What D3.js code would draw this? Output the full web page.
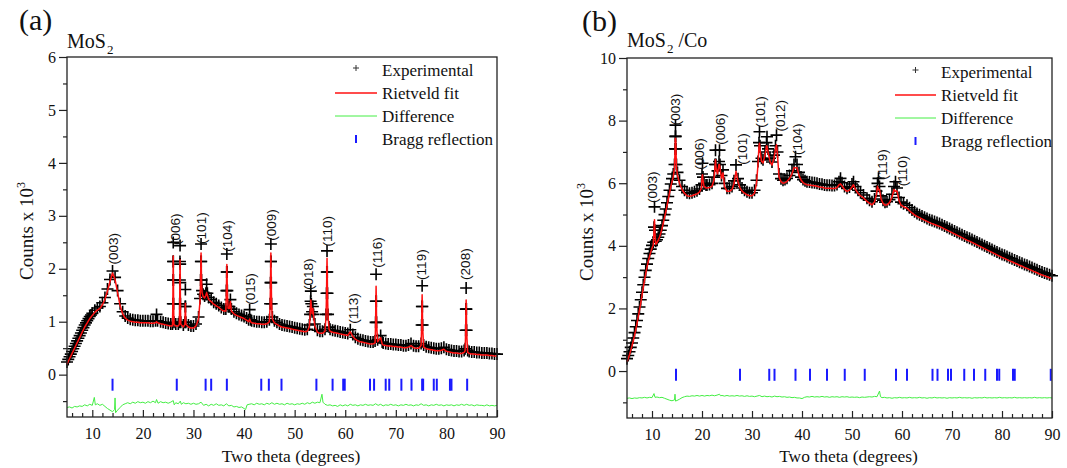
<!DOCTYPE html>
<html>
<head>
<meta charset="utf-8">
<script src="https://cdn.jsdelivr.net/npm/d3@7"></script>
<style>
  html, body { margin: 0; padding: 0; background: #fff; }
  svg { display: block; }
</style>
</head>
<body>
<svg id="chart" width="1067" height="468"></svg>
<script>
// ---------- Data: 2θ (degrees), counts (×10³) ----------

// Axis ticks
const xTicks = [10, 20, 30, 40, 50, 60, 70, 80, 90];
const xMinorTicks = [6, 8, 12, 14, 16, 18, 22, 24, 26, 28, 32, 34, 36, 38, 42, 44, 46, 48,
  52, 54, 56, 58, 62, 64, 66, 68, 72, 74, 76, 78, 82, 84, 86, 88];
const yTicksA = [0, 1, 2, 3, 4, 5, 6];
const yMinorTicksA = [-0.5, 0.5, 1.5, 2.5, 3.5, 4.5, 5.5];
const yTicksB = [0, 2, 4, 6, 8, 10];
const yMinorTicksB = [-1, 1, 3, 5, 7, 9];

// (a) MoS2 — observed pattern
const countsA = [
  [5.0,0.20],[5.25,0.25],[5.5,0.30],[5.75,0.35],[6.0,0.40],[6.25,0.45],[6.5,0.50],[6.75,0.55],
  [7.0,0.60],[7.25,0.65],[7.5,0.70],[7.75,0.75],[8.0,0.80],[8.25,0.85],[8.5,0.90],[8.75,0.94],
  [9.0,0.98],[9.25,1.02],[9.5,1.06],[9.75,1.09],[10.0,1.12],[10.5,1.18],[11.0,1.22],[11.5,1.25],
  [12.0,1.32],[12.5,1.42],[13.0,1.58],[13.5,1.76],[14.0,1.92],[14.5,1.80],[15.0,1.55],[15.5,1.30],
  [16.0,1.15],[16.5,1.07],[17.0,1.03],[17.5,1.01],[18.0,1.00],[18.5,0.99],[19.0,0.99],[19.5,0.98],
  [20.0,0.98],[20.5,0.98],[21.0,0.98],[21.5,0.97],[22.0,0.97],[22.5,0.98],[22.7,1.10],[22.9,0.98],
  [23.5,0.96],[24.0,0.95],[24.5,0.94],[25.0,0.93],[25.5,0.92],[25.85,0.92],
  [25.92,1.30],[25.96,1.75],[25.98,2.10],[26.0,2.46],[26.02,2.10],[26.04,1.75],[26.08,1.30],[26.15,0.95],
  [26.5,0.92],[27.0,0.92],[27.2,0.95],[27.27,1.30],[27.31,1.75],[27.33,2.10],[27.35,2.40],[27.37,2.05],
  [27.39,1.70],[27.43,1.30],[27.5,0.95],[28.0,0.90],[28.3,0.95],[28.37,1.25],[28.4,1.57],[28.43,1.25],
  [28.5,0.95],[29.0,0.90],[29.5,0.88],[30.0,0.88],[30.5,0.92],[31.0,1.05],[31.3,1.40],[31.4,1.75],
  [31.46,2.10],[31.5,2.43],[31.54,2.10],[31.6,1.75],[31.7,1.55],[31.9,1.48],[32.2,1.45],[32.45,1.50],
  [32.6,1.67],[32.75,1.50],[33.0,1.42],[33.5,1.38],[34.0,1.33],[34.5,1.30],[35.0,1.27],[35.5,1.23],
  [36.0,1.20],[36.4,1.20],[36.5,1.55],[36.56,1.90],[36.6,2.24],[36.64,1.90],[36.7,1.55],[36.85,1.25],
  [37.1,1.25],[37.3,1.38],[37.5,1.20],[38.0,1.15],[38.5,1.12],[39.0,1.10],[39.5,1.08],[40.0,1.06],
  [40.5,1.03],[40.9,1.00],[41.1,1.19],[41.3,1.00],[41.5,0.98],[42.0,0.97],[42.5,0.96],[43.0,0.96],
  [43.5,0.95],[44.0,0.95],[44.5,0.96],[45.0,1.00],[45.15,1.30],[45.22,1.70],[45.27,2.10],[45.3,2.43],
  [45.33,2.10],[45.38,1.70],[45.45,1.30],[45.6,1.05],[46.0,0.98],[46.5,0.95],[47.0,0.92],[47.5,0.90],
  [48.0,0.89],[48.5,0.88],[49.0,0.87],[49.5,0.86],[50.0,0.85],[50.5,0.84],[51.0,0.83],[51.5,0.82],
  [52.0,0.81],[52.5,0.82],[52.9,0.90],[53.05,1.10],[53.15,1.35],[53.2,1.54],[53.3,1.30],[53.45,1.15],
  [53.6,1.25],[53.75,1.10],[54.0,0.92],[54.5,0.80],[55.0,0.78],[55.5,0.78],[56.0,0.82],[56.2,1.10],
  [56.3,1.50],[56.35,1.90],[56.4,2.30],[56.45,1.90],[56.5,1.50],[56.6,1.10],[56.8,0.86],[57.0,0.82],
  [57.5,0.80],[58.0,0.79],[58.5,0.78],[59.0,0.77],[59.5,0.76],[60.0,0.75],[60.5,0.74],[61.0,0.81],
  [61.5,0.72],[62.0,0.67],[62.5,0.64],[63.0,0.62],[63.5,0.61],[64.0,0.60],[64.5,0.59],[65.0,0.58],
  [65.5,0.58],[65.9,0.60],[66.0,0.95],[66.05,1.35],[66.1,1.86],[66.15,1.35],[66.2,0.95],[66.4,0.62],
  [67.0,0.70],[67.3,0.58],[67.5,0.56],[68.0,0.55],[68.5,0.54],[69.0,0.54],[69.5,0.53],[70.0,0.53],
  [70.5,0.52],[71.0,0.52],[71.5,0.51],[72.0,0.51],[72.5,0.52],[73.0,0.55],[73.5,0.51],[74.0,0.50],
  [74.5,0.50],[75.0,0.55],[75.1,0.90],[75.15,1.25],[75.2,1.64],[75.25,1.25],[75.3,0.90],[75.5,0.52],
  [76.0,0.49],[76.5,0.48],[77.0,0.47],[77.5,0.46],[78.0,0.45],[78.5,0.45],[79.0,0.46],[79.5,0.48],
  [80.0,0.44],[80.5,0.43],[81.0,0.42],[81.5,0.41],[82.0,0.41],[82.5,0.40],[83.0,0.40],[83.5,0.42],
  [83.7,0.45],[83.8,0.80],[83.85,1.20],[83.9,1.60],[83.95,1.20],[84.0,0.80],[84.2,0.42],[84.5,0.40],
  [85.0,0.39],[85.5,0.39],[86.0,0.38],[86.5,0.38],[87.0,0.37],[87.5,0.37],[88.0,0.37],[88.5,0.36],
  [89.0,0.36],[89.5,0.35],[90.0,0.35]
];
// (a) Rietveld fit: peak maxima that sit below the observed points
const fitTopsA = [[22.7,1.00],[26.0,2.24],[27.35,2.17],[28.4,1.35],[31.5,2.30],[32.6,1.55],[36.6,2.08],
  [41.1,1.05],[45.3,2.30],[53.2,1.41],[56.4,2.20],[66.1,1.67],[75.2,1.51],[83.9,1.41]];
// (a) difference curve (offset below zero)
const diffA = [
  [5,-0.62],[5.5,-0.61],[6,-0.63],[6.5,-0.60],[7,-0.61],[7.5,-0.59],[8,-0.60],[8.5,-0.57],[9,-0.59],
  [9.5,-0.56],[10,-0.58],[10.4,-0.43],[10.6,-0.57],[11,-0.55],[11.5,-0.58],[12,-0.56],[12.5,-0.60],
  [13,-0.64],[13.5,-0.67],[14,-0.70],[14.4,-0.66],[14.5,-0.44],[14.6,-0.72],[15,-0.67],[15.5,-0.62],
  [16,-0.57],[16.5,-0.55],[17,-0.53],[17.5,-0.55],[18,-0.52],[18.5,-0.54],[19,-0.51],[19.5,-0.53],
  [20,-0.52],[20.5,-0.54],[21,-0.51],[21.5,-0.53],[22,-0.50],[22.5,-0.53],[22.7,-0.47],[23,-0.54],
  [23.5,-0.51],[24,-0.53],[24.5,-0.52],[25,-0.54],[25.5,-0.52],[26,-0.49],[26.2,-0.57],[26.5,-0.53],
  [27,-0.55],[27.4,-0.50],[27.6,-0.56],[28,-0.53],[28.5,-0.55],[29,-0.54],[29.5,-0.56],[30,-0.54],
  [30.5,-0.56],[31,-0.55],[31.5,-0.52],[32,-0.58],[32.5,-0.56],[33,-0.59],[33.5,-0.56],[34,-0.58],
  [34.5,-0.55],[35,-0.58],[35.5,-0.57],[36,-0.59],[36.5,-0.55],[37,-0.59],[37.5,-0.58],[38,-0.61],
  [38.5,-0.60],[39,-0.62],[39.5,-0.61],[40,-0.64],[40.3,-0.66],[40.6,-0.57],[41,-0.56],[41.5,-0.55],
  [42,-0.57],[42.5,-0.54],[43,-0.56],[43.5,-0.55],[44,-0.57],[44.5,-0.54],[45,-0.56],[45.5,-0.53],
  [46,-0.56],[46.5,-0.54],[47,-0.56],[47.5,-0.55],[48,-0.57],[48.5,-0.54],[49,-0.56],[49.5,-0.55],
  [50,-0.57],[50.5,-0.55],[51,-0.56],[51.5,-0.54],[52,-0.56],[52.5,-0.53],[53,-0.55],[53.5,-0.52],
  [54,-0.54],[54.5,-0.52],[55,-0.53],[55.4,-0.37],[55.6,-0.52],[56,-0.56],[56.5,-0.58],[57,-0.57],
  [57.5,-0.59],[58,-0.58],[58.5,-0.60],[59,-0.57],[59.5,-0.59],[60,-0.57],[60.5,-0.59],[61,-0.56],
  [61.5,-0.58],[62,-0.57],[62.5,-0.59],[63,-0.57],[63.5,-0.58],[64,-0.56],[64.5,-0.58],[65,-0.57],
  [65.5,-0.58],[66,-0.55],[66.5,-0.58],[67,-0.56],[67.5,-0.59],[68,-0.57],[68.5,-0.58],[69,-0.56],
  [69.5,-0.58],[70,-0.57],[70.5,-0.59],[71,-0.57],[71.5,-0.58],[72,-0.56],[72.5,-0.58],[73,-0.57],
  [73.5,-0.59],[74,-0.57],[74.5,-0.58],[75,-0.55],[75.5,-0.58],[76,-0.57],[76.5,-0.59],[77,-0.57],
  [77.5,-0.58],[78,-0.56],[78.5,-0.58],[79,-0.57],[79.5,-0.59],[80,-0.57],[80.5,-0.58],[81,-0.57],
  [81.5,-0.59],[82,-0.57],[82.5,-0.58],[83,-0.56],[83.5,-0.58],[84,-0.56],[84.5,-0.58],[85,-0.57],
  [85.5,-0.59],[86,-0.57],[86.5,-0.58],[87,-0.58],[87.5,-0.59],[88,-0.57],[88.5,-0.59],[89,-0.58],
  [89.5,-0.59],[90,-0.58]
];
const braggA = [14.0, 26.7, 32.4, 33.5, 36.6, 43.4, 44.9, 47.4, 54.3, 57.5, 59.6, 59.9, 64.9, 65.7,
  68.0, 68.7, 71.1, 73.1, 75.2, 75.4, 77.5, 78.1, 80.7, 81.0, 84.1];
// [label, 2θ, counts at the lower end of the label]
const labelsA = [["(003)",14.1,2.08],["(006)",26.5,2.45],["(101)",31.6,2.47],["(104)",36.7,2.32],
  ["(015)",41.2,1.32],["(009)",45.3,2.53],["(018)",52.7,1.60],["(110)",56.5,2.42],["(113)",61.6,0.96],
  ["(116)",66.3,2.02],["(119)",75.0,1.79],["(208)",83.7,1.79]];

// (b) MoS2/Co — observed pattern
const countsB = [
  [5.0,0.30],[5.25,0.40],[5.5,0.52],[5.75,0.66],[6.0,0.80],[6.25,0.96],[6.5,1.13],[6.75,1.32],
  [7.0,1.52],[7.25,1.73],[7.5,1.95],[7.75,2.18],[8.0,2.42],[8.25,2.66],[8.5,2.90],[8.75,3.12],
  [9.0,3.32],[9.25,3.50],[9.5,3.66],[9.75,3.80],[10.0,3.92],[10.25,4.02],[10.4,4.50],[10.5,5.15],
  [10.6,4.40],[10.75,4.05],[11.0,4.10],[11.25,4.18],[11.5,4.28],[11.75,4.40],[12.0,4.55],[12.25,4.72],
  [12.5,4.90],[12.75,5.08],[13.0,5.28],[13.25,5.48],[13.5,5.68],[13.75,5.88],[14.0,6.05],[14.25,6.20],
  [14.5,6.50],[14.6,7.00],[14.65,7.40],[14.7,7.76],[14.75,7.40],[14.8,7.00],[14.9,6.50],[15.1,6.25],
  [15.5,6.00],[16.0,5.80],[16.5,5.68],[17.0,5.60],[17.5,5.58],[18.0,5.60],[18.5,5.63],[19.0,5.66],
  [19.5,5.72],[19.9,5.85],[20.0,6.20],[20.1,6.54],[20.2,6.10],[20.4,5.90],[20.8,5.85],[21.0,5.85],
  [21.5,5.86],[22.0,5.90],[22.4,6.10],[22.6,6.50],[22.7,6.96],[22.8,6.50],[23.1,6.30],[23.4,6.60],
  [23.5,6.96],[23.6,6.50],[23.9,6.15],[24.2,6.33],[24.5,5.90],[25.0,5.74],[25.5,5.74],[26.0,5.80],
  [26.4,5.98],[26.8,6.49],[27.2,6.05],[27.6,5.85],[28.0,5.75],[28.5,5.68],[29.0,5.63],[29.5,5.60],
  [30.0,5.60],[30.5,5.68],[30.9,6.00],[31.2,6.60],[31.4,7.20],[31.5,7.55],[31.6,7.10],[31.9,6.70],
  [32.2,6.65],[32.6,6.90],[32.9,7.20],[33.0,7.39],[33.2,7.00],[33.6,6.70],[34.0,6.58],[34.4,6.80],
  [34.7,7.10],[34.9,7.44],[35.1,6.90],[35.4,6.20],[35.8,6.05],[36.2,6.00],[36.6,6.02],[37.0,6.06],
  [37.5,6.15],[38.0,6.30],[38.4,6.50],[38.7,6.75],[39.0,6.50],[39.4,6.25],[39.8,6.10],[40.2,6.02],
  [40.6,5.98],[41.0,5.95],[41.5,5.94],[42.0,5.93],[42.5,5.92],[43.0,5.90],[43.5,5.88],[44.0,5.87],
  [44.5,5.85],[45.0,5.84],[45.5,5.84],[46.0,5.83],[46.5,5.83],[47.0,5.86],[47.4,5.95],[47.7,6.06],
  [48.0,5.92],[48.5,5.80],[49.0,5.74],[49.5,5.78],[50.0,5.88],[50.3,5.95],[50.7,5.80],[51.2,5.68],
  [51.7,5.60],[52.3,5.53],[53.0,5.42],[53.5,5.36],[54.0,5.31],[54.5,5.40],[54.9,5.65],[55.1,5.90],
  [55.3,6.06],[55.5,5.80],[55.8,5.50],[56.2,5.36],[56.6,5.30],[57.0,5.31],[57.5,5.38],[58.0,5.55],
  [58.4,5.80],[58.7,5.95],[59.0,5.75],[59.4,5.45],[59.8,5.30],[60.3,5.25],[61.0,5.20],[61.5,5.12],
  [62.0,5.05],[62.5,4.99],[63.0,4.94],[63.5,4.90],[64.0,4.86],[64.5,4.82],[65.0,4.78],[65.5,4.74],
  [66.0,4.71],[66.5,4.68],[67.0,4.65],[67.5,4.62],[68.0,4.58],[68.5,4.54],[69.0,4.50],[69.5,4.46],
  [70.0,4.42],[70.5,4.38],[71.0,4.34],[71.5,4.30],[72.0,4.26],[72.5,4.22],[73.0,4.18],[73.5,4.15],
  [74.0,4.11],[74.5,4.07],[75.0,4.03],[75.5,3.99],[76.0,3.95],[76.5,3.91],[77.0,3.87],[77.5,3.83],
  [78.0,3.79],[78.5,3.75],[79.0,3.71],[79.5,3.67],[80.0,3.63],[80.5,3.60],[81.0,3.56],[81.5,3.52],
  [82.0,3.49],[82.5,3.45],[83.0,3.42],[83.5,3.38],[84.0,3.35],[84.5,3.31],[85.0,3.28],[85.5,3.24],
  [86.0,3.21],[86.5,3.17],[87.0,3.14],[87.5,3.10],[88.0,3.07],[88.5,3.04],[89.0,3.01],[89.5,2.98],
  [90.0,2.95]
];
const fitTopsB = [[10.5,4.83],[14.7,7.44],[20.1,6.27],[22.7,6.75],[23.5,6.59],[26.8,6.38],[31.5,7.28],
  [33.0,7.18],[34.9,7.23],[38.7,6.49],[47.7,5.98],[55.3,5.79],[58.7,5.74]];
const diffB = [
  [5,-0.87],[5.5,-0.86],[6,-0.88],[6.5,-0.86],[7,-0.87],[7.5,-0.85],[8,-0.86],[8.5,-0.84],[9,-0.86],
  [9.5,-0.84],[10,-0.85],[10.4,-0.72],[10.6,-0.84],[11,-0.83],[11.5,-0.85],[12,-0.84],[12.5,-0.87],
  [13,-0.90],[13.5,-0.93],[14,-0.95],[14.5,-0.92],[14.6,-0.74],[14.7,-0.96],[15,-0.94],[15.5,-0.90],
  [16,-0.85],[16.5,-0.82],[17,-0.80],[17.5,-0.81],[18,-0.79],[18.5,-0.80],[19,-0.78],[19.5,-0.80],
  [20,-0.78],[20.5,-0.80],[21,-0.78],[21.5,-0.79],[22,-0.77],[22.5,-0.79],[23,-0.77],[23.5,-0.74],
  [23.7,-0.79],[24,-0.78],[24.5,-0.80],[25,-0.78],[25.5,-0.80],[26,-0.79],[26.5,-0.80],[27,-0.78],
  [27.5,-0.80],[28,-0.79],[28.5,-0.81],[29,-0.79],[29.5,-0.81],[30,-0.80],[30.5,-0.82],[31,-0.80],
  [31.5,-0.78],[32,-0.82],[32.5,-0.80],[33,-0.82],[33.5,-0.81],[34,-0.83],[34.5,-0.80],[35,-0.82],
  [35.5,-0.81],[36,-0.83],[36.5,-0.82],[37,-0.84],[37.5,-0.83],[38,-0.85],[38.5,-0.84],[39,-0.86],
  [39.5,-0.86],[40,-0.88],[40.5,-0.84],[41,-0.82],[41.5,-0.83],[42,-0.81],[42.5,-0.83],[43,-0.82],
  [43.5,-0.83],[44,-0.81],[44.5,-0.83],[45,-0.82],[45.5,-0.84],[46,-0.82],[46.5,-0.83],[47,-0.82],
  [47.5,-0.84],[48,-0.82],[48.5,-0.83],[49,-0.82],[49.5,-0.84],[50,-0.83],[50.5,-0.84],[51,-0.83],
  [51.5,-0.85],[52,-0.83],[52.5,-0.84],[53,-0.83],[53.5,-0.82],[54,-0.83],[54.5,-0.81],[55,-0.82],
  [55.5,-0.64],[55.7,-0.82],[56,-0.85],[56.5,-0.84],[57,-0.86],[57.5,-0.85],[58,-0.87],[58.5,-0.85],
  [59,-0.86],[59.5,-0.84],[60,-0.86],[60.5,-0.85],[61,-0.86],[61.5,-0.84],[62,-0.86],[62.5,-0.85],
  [63,-0.86],[63.5,-0.84],[64,-0.86],[64.5,-0.85],[65,-0.87],[65.5,-0.85],[66,-0.86],[66.5,-0.84],
  [67,-0.86],[67.5,-0.85],[68,-0.86],[68.5,-0.85],[69,-0.87],[69.5,-0.85],[70,-0.86],[70.5,-0.85],
  [71,-0.86],[71.5,-0.84],[72,-0.86],[72.5,-0.85],[73,-0.86],[73.5,-0.85],[74,-0.87],[74.5,-0.85],
  [75,-0.86],[75.5,-0.85],[76,-0.86],[76.5,-0.84],[77,-0.86],[77.5,-0.85],[78,-0.86],[78.5,-0.85],
  [79,-0.86],[79.5,-0.84],[80,-0.86],[80.5,-0.85],[81,-0.86],[81.5,-0.85],[82,-0.86],[82.5,-0.84],
  [83,-0.86],[83.5,-0.85],[84,-0.86],[84.5,-0.85],[85,-0.86],[85.5,-0.85],[86,-0.86],[86.5,-0.84],
  [87,-0.86],[87.5,-0.85],[88,-0.86],[88.5,-0.85],[89,-0.86],[89.5,-0.85],[90,-0.86]
];
const braggB = [14.8, 27.6, 33.45, 34.5, 38.7, 41.6, 45.0, 48.55, 52.55, 58.8, 61.0, 66.1, 67.1, 69.2,
  69.8, 72.45, 74.4, 76.65, 79.0, 79.45, 82.2, 82.55, 89.75];
const labelsB = [["(003)",10.0,5.37],["(003)",14.7,7.85],["(006)",19.5,6.43],["(006)",23.7,7.23],
  ["(101)",28.0,6.59],["(101)",31.7,7.77],["(012)",35.6,7.65],["(104)",39.0,6.90],["(119)",56.0,6.11],
  ["(110)",60.0,5.90]];

const legendItems = ["Experimental", "Rietveld fit", "Difference", "Bragg reflection"];

// ---------- Panel layout ----------
const panels = [
  { tag: "(a)", tagX: 19, tagY: 30, title: ["MoS", "2", ""], titleX: 67, titleY: 48,
    left: 67, right: 497, top: 57, bottom: 417, yDomain: [-0.8, 6],
    yTicks: yTicksA, yMinor: yMinorTicksA, counts: countsA, fitTops: fitTopsA, diff: diffA,
    bragg: braggA, braggAt: -0.19, labels: labelsA, markerLift: 2,
    legendLineX: 335, legendTextX: 382, legendTop: 70 },
  { tag: "(b)", tagX: 582, tagY: 31, title: ["MoS", "2", " /Co"], titleX: 627, titleY: 47,
    left: 627, right: 1052, top: 58, bottom: 418, yDomain: [-1.5, 10],
    yTicks: yTicksB, yMinor: yMinorTicksB, counts: countsB, fitTops: fitTopsB, diff: diffB,
    bragg: braggB, braggAt: -0.12, labels: labelsB, markerLift: 3,
    legendLineX: 895, legendTextX: 941, legendTop: 72 }
];

const SERIF = "'Liberation Serif', 'Times New Roman', serif";
const SANS = "'Liberation Sans', Arial, sans-serif";
const RED = "#ff1010", GREEN = "#44ee44", BLUE = "#1a1aff", INK = "#222";
const plusPath = s => `M${-s},0H${s}M0,${-s}V${s}`;

const svg = d3.select("#chart");

panels.forEach(p => {
  const x = d3.scaleLinear().domain([5, 90]).range([p.left, p.right]);
  const y = d3.scaleLinear().domain(p.yDomain).range([p.bottom, p.top]);
  const g = svg.append("g");

  // Panel tag and sample name
  g.append("text").attr("x", p.tagX).attr("y", p.tagY)
    .style("font-family", SERIF).style("font-size", "30px").attr("fill", "#111").text(p.tag);
  const t = g.append("text").attr("x", p.titleX).attr("y", p.titleY)
    .style("font-family", SERIF).style("font-size", "20px").attr("fill", "#111");
  t.append("tspan").text(p.title[0]);
  t.append("tspan").attr("dy", 6).attr("dx", 1).style("font-size", "13px").text(p.title[1]);
  if (p.title[2]) t.append("tspan").attr("dy", -6).text(p.title[2]);

  // Difference curve
  const line = d3.line().x(d => x(d[0])).y(d => y(d[1]));
  g.append("path").datum(p.diff).attr("d", line)
    .attr("fill", "none").attr("stroke", GREEN).attr("stroke-width", 1);

  // Bragg reflection markers
  g.append("g").selectAll("line").data(p.bragg).join("line")
    .attr("x1", d => x(d)).attr("x2", d => x(d))
    .attr("y1", y(p.braggAt) - 6).attr("y2", y(p.braggAt) + 6)
    .attr("stroke", BLUE).attr("stroke-width", 2);

  // Experimental points
  g.append("g").selectAll("path").data(p.counts).join("path")
    .attr("transform", d => `translate(${x(d[0])},${y(d[1]) - p.markerLift})`)
    .attr("d", plusPath(6)).attr("stroke", "#000").attr("stroke-width", 1.6).attr("fill", "none");

  // Rietveld fit
  const tops = new Map(p.fitTops.map(d => [d[0], d[1]]));
  const fit = p.counts.map(d => [d[0], tops.has(d[0]) ? tops.get(d[0]) : d[1]]);
  g.append("path").datum(fit).attr("d", line)
    .attr("fill", "none").attr("stroke", RED).attr("stroke-width", 1.5)
    .attr("stroke-linejoin", "round");

  // Reflection indices
  g.append("g").selectAll("text").data(p.labels).join("text")
    .attr("transform", d => `translate(${x(d[1])},${y(d[2])}) rotate(-90)`)
    .attr("dy", "0.35em").attr("text-anchor", "start")
    .style("font-family", SANS).style("font-size", "13.5px").attr("fill", "#111")
    .text(d => d[0]);

  // Frame
  g.append("rect").attr("x", p.left).attr("y", p.top)
    .attr("width", p.right - p.left).attr("height", p.bottom - p.top)
    .attr("fill", "none").attr("stroke", INK).attr("stroke-width", 1.3);

  // Bottom axis: inward ticks
  g.append("g").attr("transform", `translate(0,${p.bottom})`)
    .call(d3.axisBottom(x).tickValues(xTicks).tickSize(-7).tickPadding(11).tickFormat(d3.format("d")));
  g.append("g").attr("transform", `translate(0,${p.bottom})`)
    .call(d3.axisBottom(x).tickValues(xMinorTicks).tickSize(-4).tickFormat(""));

  // Left axis: outward ticks
  g.append("g").attr("transform", `translate(${p.left},0)`)
    .call(d3.axisLeft(y).tickValues(p.yTicks).tickSize(8).tickPadding(3).tickFormat(d3.format("d")));
  g.append("g").attr("transform", `translate(${p.left},0)`)
    .call(d3.axisLeft(y).tickValues(p.yMinor).tickSize(4).tickFormat(""));

  g.selectAll(".domain").remove();
  g.selectAll(".tick line").attr("stroke", INK).attr("stroke-width", 1.2);
  g.selectAll(".tick text").style("font-family", SERIF).style("font-size", "16px").attr("fill", "#111");

  // Axis titles
  g.append("text").attr("x", (p.left + p.right) / 2 + 9).attr("y", 462)
    .attr("text-anchor", "middle").style("font-family", SERIF).style("font-size", "17.5px")
    .attr("fill", "#111").text("Two theta (degrees)");
  const yt = g.append("text")
    .attr("transform", `translate(${p.left - 34},${(p.top + p.bottom) / 2 - 6}) rotate(-90)`)
    .attr("text-anchor", "middle").style("font-family", SERIF).style("font-size", "19px").attr("fill", "#111");
  yt.append("tspan").text("Counts x 10");
  yt.append("tspan").attr("dy", -8).style("font-size", "12px").text("3");

  // Legend
  const lg = g.append("g");
  legendItems.forEach((name, i) => {
    const cy = p.legendTop + i * 23;
    const mid = (p.legendLineX + p.legendTextX - 5) / 2;
    if (i === 0) {
      lg.append("path").attr("transform", `translate(${mid},${cy - 2})`).attr("d", plusPath(3))
        .attr("stroke", "#333").attr("stroke-width", 1).attr("fill", "none");
    } else if (i === 3) {
      lg.append("line").attr("x1", mid).attr("x2", mid).attr("y1", cy - 4).attr("y2", cy + 4)
        .attr("stroke", BLUE).attr("stroke-width", 2);
    } else {
      lg.append("line").attr("x1", p.legendLineX).attr("x2", p.legendTextX - 5)
        .attr("y1", cy).attr("y2", cy)
        .attr("stroke", i === 1 ? RED : GREEN).attr("stroke-width", i === 1 ? 1.6 : 1);
    }
    lg.append("text").attr("x", p.legendTextX).attr("y", cy + 5.5)
      .style("font-family", SERIF).style("font-size", "17px").attr("fill", "#111").text(name);
  });
});
</script>
</body>
</html>
